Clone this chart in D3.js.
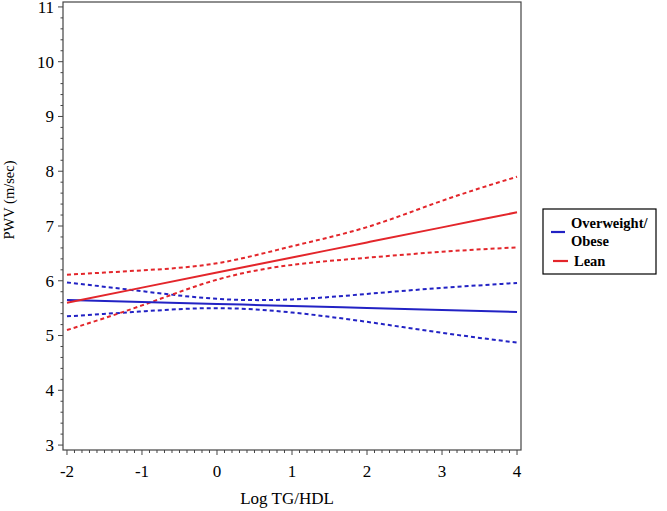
<!DOCTYPE html>
<html><head><meta charset="utf-8">
<script src="https://cdn.jsdelivr.net/npm/d3@7"></script>
<style>body{margin:0;background:#fff}svg{display:block}</style>
</head><body>
<svg id="c" width="667" height="511"></svg>
<script>
const xVals = [-2, -1, 0, 1, 2, 3, 4];
const leanFit   = [5.60, 5.875, 6.15, 6.425, 6.70, 6.975, 7.25];
const leanUpper = [6.11, 6.19, 6.32, 6.63, 6.98, 7.46, 7.90];
const leanLower = [5.10, 5.55, 6.02, 6.29, 6.42, 6.53, 6.61];
const obeseFit   = [5.65, 5.613, 5.577, 5.54, 5.503, 5.467, 5.43];
const obeseUpper = [5.97, 5.81, 5.67, 5.66, 5.76, 5.87, 5.96];
const obeseLower = [5.35, 5.44, 5.50, 5.42, 5.25, 5.05, 4.87];
const xTicks = [-2, -1, 0, 1, 2, 3, 4];
const yTicks = [3, 4, 5, 6, 7, 8, 9, 10, 11];
const legendLabels = [["Overweight/", "Obese"], ["Lean"]];

const BLUE = "#2222c4", RED = "#e3262b", AX = "#444";
const svg = d3.select("#c");
const x = d3.scaleLinear().domain([-2.053, 4.053]).range([63, 521]);
const y = d3.scaleLinear().domain([2.91, 11.09]).range([450, 2]);
const font = "'Liberation Serif','Times New Roman',serif";

// frame
svg.append("rect").attr("x", 63).attr("y", 2).attr("width", 458).attr("height", 448)
  .attr("fill", "none").attr("stroke", AX).attr("stroke-width", 1.2);

// minor ticks
const xMinor = d3.range(-20, 41).map(d => d / 10);
svg.append("g").selectAll("line").data(xMinor).join("line")
  .attr("x1", d => x(d)).attr("x2", d => x(d))
  .attr("y1", 450).attr("y2", d => Math.abs(d - Math.round(d)) < 1e-6 ? 455 : 453)
  .attr("stroke", AX).attr("stroke-width", 1);
const yMinor = d3.range(15, 56).map(d => d / 5);
svg.append("g").selectAll("line").data(yMinor).join("line")
  .attr("y1", d => y(d)).attr("y2", d => y(d))
  .attr("x1", 63).attr("x2", d => Math.abs(d - Math.round(d)) < 1e-6 ? 58 : 60.5)
  .attr("stroke", AX).attr("stroke-width", 1);

// tick labels
svg.append("g").selectAll("text").data(xTicks).join("text")
  .attr("x", d => x(d)).attr("y", 477).attr("text-anchor", "middle")
  .attr("font-family", font).attr("font-size", 17).text(d => d);
svg.append("g").selectAll("text").data(yTicks).join("text")
  .attr("x", 54).attr("y", d => y(d)).attr("dy", "0.35em").attr("text-anchor", "end")
  .attr("font-family", font).attr("font-size", 17).text(d => d);

// axis titles
svg.append("text").attr("transform", "translate(14,200) rotate(-90)")
  .attr("text-anchor", "middle").attr("font-family", font).attr("font-size", 14.5)
  .text("PWV (m/sec)");
svg.append("text").attr("x", 287).attr("y", 504).attr("text-anchor", "middle")
  .attr("font-family", font).attr("font-size", 17).text("Log TG/HDL");

// lines
const line = d3.line().x(d => x(d[0])).y(d => y(d[1])).curve(d3.curveNatural);
const series = [
  {v: obeseUpper, c: BLUE, dash: "4,3"},
  {v: obeseLower, c: BLUE, dash: "4,3"},
  {v: leanUpper, c: RED, dash: "4,3"},
  {v: leanLower, c: RED, dash: "4,3"},
  {v: obeseFit, c: BLUE, dash: null},
  {v: leanFit, c: RED, dash: null}
];
series.forEach(s => {
  svg.append("path").datum(xVals.map((xv, i) => [xv, s.v[i]]))
    .attr("d", line).attr("fill", "none").attr("stroke", s.c)
    .attr("stroke-width", 2).attr("stroke-dasharray", s.dash);
});

// legend
svg.append("rect").attr("x", 543).attr("y", 209).attr("width", 113).attr("height", 65)
  .attr("fill", "#fff").attr("stroke", "#000").attr("stroke-width", 1.2);
svg.append("line").attr("x1", 551).attr("x2", 565).attr("y1", 232).attr("y2", 232)
  .attr("stroke", BLUE).attr("stroke-width", 2.2);
svg.append("line").attr("x1", 553).attr("x2", 568).attr("y1", 261).attr("y2", 261)
  .attr("stroke", RED).attr("stroke-width", 2.2);
svg.append("text").attr("x", 571).attr("y", 228).attr("font-family", font)
  .attr("font-weight", "bold").attr("font-size", 14.5).text(legendLabels[0][0]);
svg.append("text").attr("x", 571).attr("y", 246).attr("font-family", font)
  .attr("font-weight", "bold").attr("font-size", 14.5).text(legendLabels[0][1]);
svg.append("text").attr("x", 574).attr("y", 266).attr("font-family", font)
  .attr("font-weight", "bold").attr("font-size", 14.5).text(legendLabels[1][0]);
</script>
</body></html>
